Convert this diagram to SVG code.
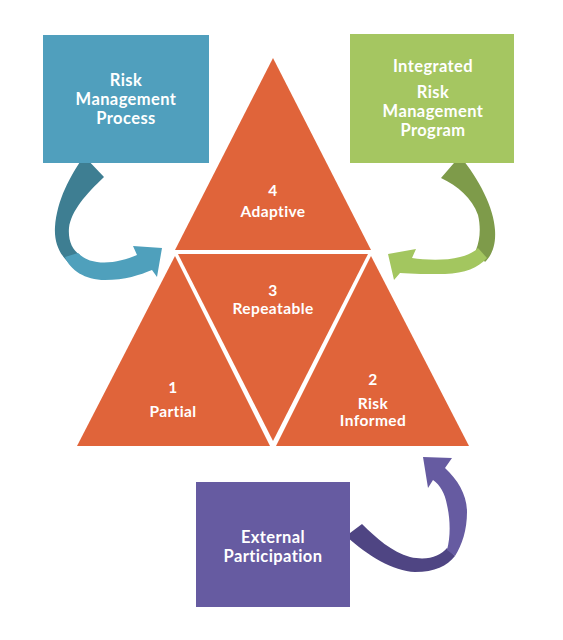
<svg xmlns="http://www.w3.org/2000/svg" width="563" height="640" viewBox="0 0 563 640">
<style>
.t{font-family:Lato,"Open Sans","Liberation Sans",sans-serif;font-weight:700;fill:#fff;text-anchor:middle;letter-spacing:0.4px}
.b{font-size:16.5px}
.s{font-size:15.5px}
.tri{fill:#E0643A}
</style>
<rect width="563" height="640" fill="#fff"/>
<g id="connectors">
  <g id="arrow-blue">
    <path d="M84,156 L104,177 C86,194 71,211 69,228 C68,240 72,250 80,255 L70,264 C60,255 54,243 55,227 C57,200 70,176 84,156 Z" fill="#3E7E92"/>
    <path d="M65,257 C70,270 85,280 105,280 C125,280 140,275 152,270 L157,277 L162,248 L133,246 L137,255 C125,260 110,264 97,262 C90,261 84,259 78,253 Z" fill="#4FA0BC"/>
  </g>
  <g id="arrow-green">
    <path d="M460,156 C479,179 494,208 495,230 C496,245 492,255 485,262 L476,250 C480,240 481,228 478,215 C472,198 458,186 441,178 Z" fill="#7E9B4A"/>
    <path d="M487,258 C478,268 465,273 445,274 C428,274 412,274 400,273 L394,280 L388,254 L416,249 L412,258 C425,260 445,261 460,257 C468,255 474,252 478,248 Z" fill="#A3C65F"/>
  </g>
  <g id="arrow-purple">
    <path d="M346,536 L362,524 C376,538 392,552 410,557 C428,561 440,556 447,548 L455,556 C447,566 435,572 415,572 C393,571 368,556 346,536 Z" fill="#4F4583"/>
    <path d="M447,550 C451,535 450,518 447,505 C445,493 440,485 433,480 L428,488 L423,457 L452,458 L445,468 C458,480 467,495 467,512 C467,530 462,545 455,556 Z" fill="#665BA1"/>
  </g>
</g>
<g id="box-process">
  <rect x="43" y="35" width="166" height="128" fill="#509FBD"/>
  <text class="t b" x="126" y="86">Risk</text>
  <text class="t b" x="126" y="105">Management</text>
  <text class="t b" x="126" y="124">Process</text>
</g>
<g id="box-program">
  <rect x="350" y="34" width="164" height="129" fill="#A5C661"/>
  <text class="t b" x="433" y="72">Integrated</text>
  <text class="t b" x="433" y="98">Risk</text>
  <text class="t b" x="433" y="117">Management</text>
  <text class="t b" x="433" y="136">Program</text>
</g>
<g id="box-external">
  <rect x="196" y="482" width="154" height="125" fill="#665BA1"/>
  <text class="t b" x="273" y="543">External</text>
  <text class="t b" x="273" y="562">Participation</text>
</g>
<g id="tier-4">
  <polygon class="tri" points="273,58 371,250 175,250"/>
  <text class="t s" x="273" y="196">4</text>
  <text class="t s" x="273" y="217">Adaptive</text>
</g>
<g id="tier-3">
  <polygon class="tri" points="178,254 368,254 273,441"/>
  <text class="t s" x="273" y="296">3</text>
  <text class="t s" x="273" y="314">Repeatable</text>
</g>
<g id="tier-1">
  <polygon class="tri" points="175,256 270,446 77,446"/>
  <text class="t s" x="173" y="393">1</text>
  <text class="t s" x="173" y="417">Partial</text>
</g>
<g id="tier-2">
  <polygon class="tri" points="371,256 469,446 276,446"/>
  <text class="t s" x="373" y="385">2</text>
  <text class="t s" x="373" y="409">Risk</text>
  <text class="t s" x="373" y="426">Informed</text>
</g>
</svg>
